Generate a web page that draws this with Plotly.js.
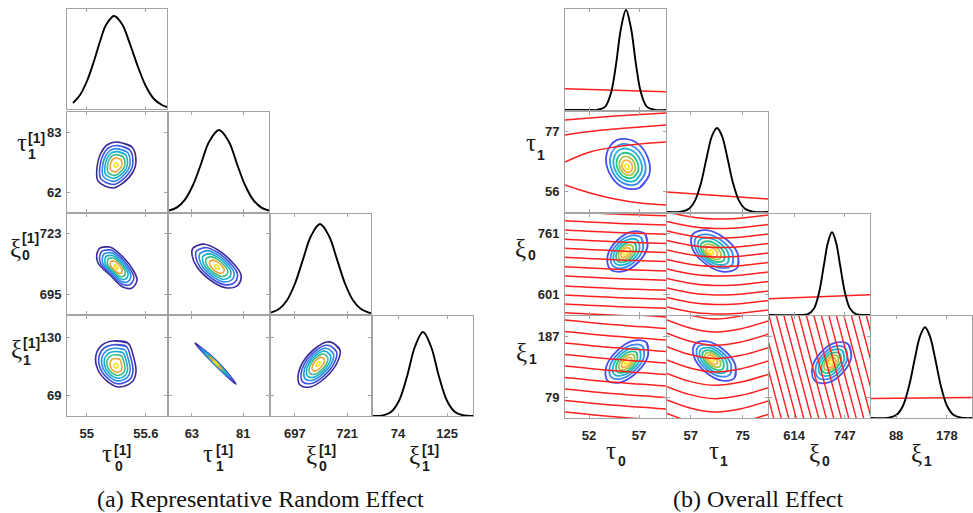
<!DOCTYPE html>
<html><head><meta charset="utf-8">
<script src="https://cdn.plot.ly/plotly-3.0.1.min.js"></script>
<style>html,body{margin:0;padding:0;background:#fff}#chart{width:973px;height:513px}</style>
</head><body><div id="chart"></div>
<script>
// ================= DATA =================
// ---- (a) Representative Random Effect : tau0[1], tau1[1], xi0[1], xi1[1]
const xTicksA = [[55, 55.6], [63, 81], [697, 721], [74, 125]];
const yTicksA = [null, [62, 83], [695, 723], [69, 130]];
// marginal densities (height as fraction of panel)
const densA_tau0_x = [54.861,54.932,55.003,55.074,55.135,55.196,55.277,55.358,55.439,55.521,55.602,55.683,55.764,55.815];
const densA_tau0_y = [0.06,0.14,0.28,0.48,0.675,0.84,0.93,0.85,0.65,0.42,0.225,0.10,0.04,0.02];
const densA_tau1_x = [55,57.8,60.6,63.4,66.2,69.0,72.5,76.0,78.8,81.6,84.4,87.2,90];
const densA_tau1_y = [0.014,0.046,0.124,0.27,0.48,0.70,0.82,0.70,0.48,0.27,0.124,0.046,0.014];
const densA_xi0_x = [686,689.68,693.36,697.04,700.72,704.4,708.54,712.68,716.36,720.04,723.72,727.4,731.08,732];
const densA_xi0_y = [0.014,0.049,0.137,0.305,0.546,0.78,0.90,0.78,0.546,0.305,0.137,0.049,0.014,0.01];
const densA_xi1_x = [48,58.4,66.72,75.04,83.36,91.68,100,108.32,116.64,124.96,133.28,141.6,152];
const densA_xi1_y = [0,0.007,0.04,0.153,0.394,0.695,0.84,0.695,0.394,0.153,0.04,0.007,0];
// outermost contour ring + peak of each joint density
const ringA21_x = [55.308,55.460,55.500,55.470,55.368,55.267,55.115,55.105,55.135,55.206];
const ringA21_y = [79.5,77.75,72.5,69.0,65.15,63.4,65.85,70.75,74.95,78.45];
const peakA21 = [55.297, 71.45];
const ringA31_x = [55.135,55.236,55.368,55.470,55.511,55.460,55.368,55.236,55.115,55.105];
const ringA31_y = [716.36,716.82,712.22,706.24,701.64,697.96,698.42,703.94,709.46,714.06];
const peakA31 = [55.297, 707.62];
const ringA32_x = [63.4,66.9,72.15,77.4,80.2,79.15,75.3,70.4,64.8,63.05];
const ringA32_y = [716.36,718.2,715.44,709.46,703.94,699.34,697.96,700.72,707.62,713.14];
const peakA32 = [71.8, 707.62];
const ringA41_x = [55.267,55.419,55.470,55.500,55.460,55.318,55.216,55.115,55.094,55.155];
const ringA41_y = [126,123.9,111.4,93.8,83.4,78.2,83.4,95.8,111.4,121.8];
const peakA41 = [55.297, 100];
const ringA42_x = [64.1,71.94,78.45,70.96];
const ringA42_y = [123.92,104.58,81.28,101.66];
const peakA42 = [71.45, 103.12];
const ringA43_x = [714.52,717.74,716.36,710.84,703.94,699.34,698.42,700.72,707.16,711.76];
const ringA43_y = [123.92,116.64,103.12,87.52,78.16,80.24,88.56,104.16,119.76,124.96];
const peakA43 = [707.62, 102.08];
const levelsA = [1, 0.85, 0.71, 0.58, 0.45, 0.3, 0.1];

// ---- (b) Overall Effect : tau0, tau1, xi0, xi1
const xTicksB = [[52, 57], [57, 75], [614, 747], [88, 178]];
const yTicksB = [null, [56, 77], [601, 761], [79, 187]];
const densB_tau0_x = [49.6,52.1,52.8,53.6,54.2,54.7,55.2,55.7,56.2,56.7,57.2,57.8,58.6,59.7];
const densB_tau0_y = [0,0,0.001,0.031,0.17,0.45,0.81,0.99,0.81,0.45,0.17,0.031,0.001,0];
const densB_tau1_x = [48.8,53.65,56.42,58.50,60.58,62.66,64.39,66.13,67.86,69.59,71.67,73.75,75.83,78.6,83.8];
const densB_tau1_y = [0,0.004,0.033,0.114,0.29,0.56,0.76,0.84,0.76,0.56,0.29,0.114,0.033,0.004,0];
const densB_xi0_x = [548,629.3,650.3,666.1,679.2,692.3,702.8,713.3,723.8,734.3,747.4,760.5,776.3,797.3,813];
const densB_xi0_y = [0,0,0.009,0.065,0.22,0.50,0.72,0.82,0.72,0.50,0.22,0.065,0.009,0,0];
const densB_xi1_x = [43.5,75.4,89.6,100.2,110.8,121.5,130.3,139.2,148.0,156.9,167.5,178.2,188.8,203.0,222.5];
const densB_xi1_y = [0,0.004,0.035,0.12,0.31,0.59,0.80,0.89,0.80,0.59,0.31,0.12,0.035,0.004,0];
// prior (red) on the diagonal
const priorB_x = [[49.6,59.7],[48.8,83.8],[548,813],[43.5,222.5]];
const priorB_y = [[0.21,0.18],[0.20,0.13],[0.16,0.20],[0.19,0.20]];
// outermost contour ring + peak
const ringB21_x = [57.04,58.03,57.77,56.41,54.76,53.77,54.03,55.39];
const ringB21_y = [57.24,61.89,68.72,73.72,73.97,69.31,62.49,57.48];
const peakB21 = [55.8, 64.55];
const ringB31_x = [57.6,57.845,56.925,55.375,54.1,53.855,54.775,56.325];
const ringB31_y = [760.5,727.1,686.4,662.3,668.7,702.2,742.8,767.0];
const peakB31 = [55.6, 710.7];
const ringB32_x = [73.23,73.26,68.71,62.24,57.64,57.61,62.15,68.63];
const ringB32_y = [672.6,709.3,749.8,770.5,759.2,722.6,682.1,661.4];
const peakB32 = [63.94, 712.5];
const ringB41_x = [57.75,57.9,56.82,55.14,53.85,53.7,54.78,56.46];
const ringB41_y = [176.0,153.2,124.3,106.1,109.3,132.1,161.0,179.2];
const peakB41 = [55.77, 140.5];
const ringB42_x = [72.26,72.48,68.51,62.67,58.4,58.18,62.15,67.99];
const ringB42_y = [114.2,136.4,162.8,177.9,172.8,150.6,124.3,109.2];
const peakB42 = [64.29, 146.5];
const ringB43_x = [756.3,763.9,741.5,702.1,668.8,661.2,683.6,723.0];
const ringB43_y = [172.8,150.9,123.0,105.4,108.3,130.2,158.1,175.7];
const peakB43 = [710.7, 140.5];
const levelsB = [1, 0.81, 0.65, 0.5, 0.37, 0.24, 0.1];
// red (prior) contour lines in the joint panels
const redB21_x = [49.6,52.1,54.6,57.1,59.7];
const redB21_y = [[81.0,81.7,82.4,82.93,83.45],[75.75,76.98,77.85,78.55,79.25],[66.3,69.8,71.55,72.6,73.3],[58.25,55.45,53.35,51.95,51.25]];
const redB31_x = [49.6,54.6,59.7];
const redB31_y = [[819.6,813.0,808.3],[795.4,788.9,784.1],[771.0,764.5,759.7],[746.6,740.0,735.3],[723.0,716.4,711.7],[699.4,692.8,688.1],[674.7,668.2,663.4],[650.3,643.8,639.0],[624.1,617.5,612.8],[600.5,593.9,589.2],[576.9,570.3,565.6],[554.0,547.4,542.7]];
const redB41_x = [49.6,54.6,59.7];
const redB41_y = [[235.7,227.3,220.8],[215.5,207.1,200.6],[195.3,186.9,180.4],[175.1,166.7,160.2],[155.0,146.6,140.1],[134.8,126.4,119.9],[114.6,106.2,99.7],[94.4,86.0,79.5],[74.2,65.8,59.3],[54.0,45.6,39.1]];
const redB32_x = [48.8,58.5,67.9,75.0,83.8];
const redB32_y = [[818.3,803.9,799.9,802.6,810.4],[793.3,778.9,774.9,777.6,785.4],[768.4,754.0,750.0,752.7,760.5],[743.5,729.1,725.1,727.8,735.6],[718.6,704.2,700.2,702.9,710.7],[693.6,679.2,675.2,677.9,685.7],[668.7,654.3,650.3,653.0,660.8],[643.8,629.4,625.4,628.1,635.9],[618.8,604.4,600.4,603.1,610.9],[593.9,579.5,575.5,578.2,586.0],[569.0,554.6,550.6,553.3,561.1]];
const redB42_x = [48.8,56.77,65.43,74.09,83.8];
const redB42_y = [[238.3,224.3,217.2,222.5,236.5],[215.5,201.5,194.4,199.7,213.7],[192.2,178.1,171.1,176.4,190.4],[168.8,154.8,147.7,153.0,167.0],[145.3,131.2,124.2,129.5,143.5],[121.9,107.8,100.8,106.1,120.1],[98.6,84.5,77.5,82.8,96.8],[75.1,61.1,54.0,59.3,73.3],[51.7,37.7,30.6,35.9,49.9]];
const redB43_top = [446.6,466.3,486.0,505.6,525.3,545.0,564.7,584.4,604.0,623.7,643.4,663.1,682.8,702.4,722.1,741.8,761.5,781.2,800.8];
const redB43_bot = [524.3,544.0,563.7,583.3,603.0,622.7,642.4,662.1,681.7,701.4,721.1,740.8,760.5,780.1,799.8,819.5,839.2,858.9,878.5];
const redB43_xi1 = [230, 35];

// ================= LAYOUT / DRAWING =================
const W = 973, H = 513;
const panels = [
  { ranges: [[54.8,55.815],[55,90],[686,732],[48,152]],
    cols: [[67,167],[169,269],[271,371],[373,473]],
    rows: [[9,109],[112,212],[214,314],[316,416]],
    xt: xTicksA, yt: yTicksA,
    dens: [[densA_tau0_x,densA_tau0_y],[densA_tau1_x,densA_tau1_y],[densA_xi0_x,densA_xi0_y],[densA_xi1_x,densA_xi1_y]],
    rings: {'10':[ringA21_x,ringA21_y,peakA21],'20':[ringA31_x,ringA31_y,peakA31],'21':[ringA32_x,ringA32_y,peakA32],
            '30':[ringA41_x,ringA41_y,peakA41],'31':[ringA42_x,ringA42_y,peakA42],'32':[ringA43_x,ringA43_y,peakA43]},
    levels: levelsA,
    colors: ['#3b2a98','#3f51dd','#2e8fe8','#16b0cc','#3dbd84','#f0a338','#f7e41d'],
    lw: 1.6, red: null },
  { ranges: [[49.6,59.7],[48.8,83.8],[548,813],[43.5,222.5]],
    cols: [[565,666],[667,768],[769,870],[871,972]],
    rows: [[9,110],[112,212],[214,315],[316,418]],
    xt: xTicksB, yt: yTicksB,
    dens: [[densB_tau0_x,densB_tau0_y],[densB_tau1_x,densB_tau1_y],[densB_xi0_x,densB_xi0_y],[densB_xi1_x,densB_xi1_y]],
    rings: {'10':[ringB21_x,ringB21_y,peakB21],'20':[ringB31_x,ringB31_y,peakB31],'21':[ringB32_x,ringB32_y,peakB32],
            '30':[ringB41_x,ringB41_y,peakB41],'31':[ringB42_x,ringB42_y,peakB42],'32':[ringB43_x,ringB43_y,peakB43]},
    levels: levelsB,
    colors: ['#4650ee','#3a8cf2','#1db3d6','#28bf8e','#a5c646','#f6b03c','#fde72a'],
    lw: 1.8,
    red: {'10':[redB21_x,redB21_y],'20':[redB31_x,redB31_y],'30':[redB41_x,redB41_y],
          '21':[redB32_x,redB32_y],'31':[redB42_x,redB42_y]} }
];

const traces = [];
const layout = {
  width: W, height: H, margin: {l:0,r:0,t:0,b:0},
  paper_bgcolor: '#fff', plot_bgcolor: '#fff', showlegend: false,
  annotations: []
};
const tickFont = {family: 'Liberation Sans, Arial, sans-serif', size: 13, color: '#262626', weight: 'bold'};
const boxColor = '#a3a3a3';

function axisBase(range, dom, tv, showLabels) {
  const a = {
    range: range, domain: dom, showline: true, linecolor: boxColor, linewidth: 1,
    mirror: 'ticks', showgrid: false, zeroline: false, fixedrange: true,
    ticks: tv ? 'inside' : '', ticklen: 3, tickcolor: boxColor, tickwidth: 1,
    showticklabels: !!(tv && showLabels), tickfont: tickFont
  };
  if (tv) { a.tickmode = 'array'; a.tickvals = tv; a.ticktext = tv.map(String); }
  return a;
}
function closed(xs, ys) { return [xs.concat([xs[0], xs[1]]), ys.concat([ys[0], ys[1]])]; }

let n = 0;
panels.forEach(P => {
  for (let r = 0; r < 4; r++) {
    for (let c = 0; c <= r; c++) {
      n++;
      const xa = 'x' + n, ya = 'y' + n;
      const dx = [P.cols[c][0] / W, P.cols[c][1] / W];
      const dy = [1 - P.rows[r][1] / H, 1 - P.rows[r][0] / H];
      const xAx = axisBase(P.ranges[c], dx, P.xt[c], r === 3);
      xAx.anchor = ya;
      xAx.ticklabelstandoff = 5;
      let yAx;
      if (r === c) {
        yAx = axisBase([0, 1], dy, null, false);
      } else {
        yAx = axisBase(P.ranges[r], dy, P.yt[r], c === 0);
        yAx.ticklabelstandoff = 2;
      }
      yAx.anchor = xa;
      layout['xaxis' + n] = xAx;
      layout['yaxis' + n] = yAx;
      const key = '' + r + c;
      if (r === c) {
        if (P === panels[1]) {
          traces.push({type:'scatter', mode:'lines', x: priorB_x[r], y: priorB_y[r], xaxis: xa, yaxis: ya,
            line: {color:'#ff1f1f', width: 1.5}, hoverinfo: 'skip'});
        }
        traces.push({type:'scatter', mode:'lines', x: P.dens[r][0], y: P.dens[r][1], xaxis: xa, yaxis: ya,
          line: {color:'#000', width: 1.9, shape: 'spline', smoothing: 1}, hoverinfo: 'skip'});
      } else {
        const [rx, ry, pk] = P.rings[key];
        P.levels.forEach((s, i) => {
          const xs = rx.map(v => pk[0] + s * (v - pk[0]));
          const ys = ry.map(v => pk[1] + s * (v - pk[1]));
          const [cx, cy] = closed(xs, ys);
          traces.push({type:'scatter', mode:'lines', x: cx, y: cy, xaxis: xa, yaxis: ya,
            line: {color: P.colors[i], width: P.lw, shape: 'spline', smoothing: 1}, hoverinfo: 'skip'});
        });
        if (P.red) {
          if (key === '32') {
            redB43_top.forEach((t, i) => {
              traces.push({type:'scatter', mode:'lines', x: [t, redB43_bot[i]], y: redB43_xi1, xaxis: xa, yaxis: ya,
                line: {color:'#ff1f1f', width: 1.4}, hoverinfo: 'skip'});
            });
          } else {
            const [lx, lys] = P.red[key];
            lys.forEach(ys => {
              traces.push({type:'scatter', mode:'lines', x: lx, y: ys, xaxis: xa, yaxis: ya,
                line: {color:'#ff1f1f', width: 1.5, shape: 'spline', smoothing: 1}, hoverinfo: 'skip'});
            });
          }
        }
      }
    }
  }
});

// ---- axis titles (letter + super/subscripts) and captions
const greekFont = {family: 'Liberation Serif, serif', size: 25, color: '#1a1a1a'};
const scriptFont = {family: 'Liberation Sans, Arial, sans-serif', size: 14, color: '#1a1a1a', weight: 'bold'};
function ann(text, px, py, font) {
  layout.annotations.push({text: text, x: px / W, y: 1 - py / H, xref: 'paper', yref: 'paper',
    xanchor: 'center', yanchor: 'middle', showarrow: false, font: font});
}
const titleSpecs = [
  // [letter, lx, ly, supText, sx, sy, subText, bx, by]
  ['τ', 21.5, 143, '[1]', 36, 137.5, '1', 31.5, 153.5],
  ['ξ', 15, 248, '[1]', 30, 237.5, '0', 25.5, 255.5],
  ['ξ', 16.5, 349, '[1]', 31, 342.5, '1', 26.5, 359.5],
  ['τ', 107, 453, '[1]', 122.5, 450, '0', 118.5, 465.5],
  ['τ', 208, 453, '[1]', 224, 450, '1', 220, 465.5],
  ['ξ', 311, 455, '[1]', 327, 450, '0', 322.5, 465.5],
  ['ξ', 414, 455, '[1]', 430, 450, '1', 425.5, 465.5],
  ['τ', 530.5, 143, '', 0, 0, '1', 540.5, 154.5],
  ['ξ', 520.5, 248, '', 0, 0, '0', 531.5, 255.5],
  ['ξ', 521.5, 352, '', 0, 0, '1', 532.5, 358.5],
  ['τ', 611, 450, '', 0, 0, '0', 621.5, 460.5],
  ['τ', 713.5, 450, '', 0, 0, '1', 724, 460.5],
  ['ξ', 814.5, 453, '', 0, 0, '0', 825.5, 461],
  ['ξ', 916.5, 453, '', 0, 0, '1', 927.5, 460.5]
];
titleSpecs.forEach(t => {
  ann(t[0], t[1], t[2], greekFont);
  if (t[3]) ann(t[3], t[4], t[5], scriptFont);
  ann(t[6], t[7], t[8], scriptFont);
});
const capFont = {family: 'Liberation Serif, Times New Roman, serif', size: 24, color: '#111'};
ann('(a) Representative Random Effect', 260, 499, capFont);
ann('(b) Overall Effect', 758, 499, capFont);

Plotly.newPlot('chart', traces, layout, {staticPlot: true, displayModeBar: false});
</script>
</body></html>
